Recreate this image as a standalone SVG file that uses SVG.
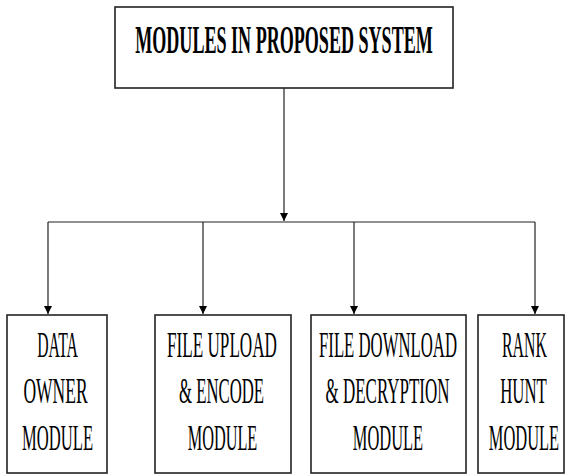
<svg xmlns="http://www.w3.org/2000/svg" width="565" height="474" viewBox="0 0 565 474">
<style>
.box{fill:#fff;stroke:#222;stroke-width:1.6}
.ln{fill:none;stroke:#222;stroke-width:1.2}
.t{font-family:"Liberation Serif","Times New Roman",serif;font-size:35px;fill:#000;text-anchor:middle}
.tt{font-family:"Liberation Serif","Times New Roman",serif;font-size:40px;font-weight:bold;fill:#000;text-anchor:middle}
</style>
<defs>
<marker id="ah" viewBox="0 0 8 10" refX="8" refY="5" markerWidth="8" markerHeight="10" markerUnits="userSpaceOnUse" orient="auto">
<path d="M0,1 L8,5 L0,9 Z" fill="#000"/>
</marker>
</defs>
<g id="title">
<rect class="box" x="115" y="7" width="338" height="81"/>
<text class="tt" transform="translate(284,53) scale(0.452,1)">MODULES IN PROPOSED SYSTEM</text>
</g>
<g id="connectors">
<line class="ln" x1="284" y1="88" x2="284" y2="221" marker-end="url(#ah)"/>
<line class="ln" x1="48" y1="222" x2="535" y2="222"/>
<line class="ln" x1="48" y1="222" x2="48" y2="314" marker-end="url(#ah)"/>
<line class="ln" x1="203" y1="222" x2="203" y2="314" marker-end="url(#ah)"/>
<line class="ln" x1="354" y1="222" x2="354" y2="314" marker-end="url(#ah)"/>
<line class="ln" x1="535" y1="222" x2="535" y2="314" marker-end="url(#ah)"/>
</g>
<g id="data-owner">
<rect class="box" x="7" y="315" width="100" height="158"/>
<text class="t" transform="translate(57.5,357) scale(0.45,1)">DATA</text>
<text class="t" transform="translate(55.5,403) scale(0.5,1)">OWNER</text>
<text class="t" transform="translate(57.5,450) scale(0.475,1)">MODULE</text>
</g>
<g id="file-upload">
<rect class="box" x="155" y="315" width="136" height="158"/>
<text class="t" transform="translate(222,357) scale(0.49,1)">FILE UPLOAD</text>
<text class="t" transform="translate(221.5,403) scale(0.478,1)">&amp; ENCODE</text>
<text class="t" transform="translate(222.5,450) scale(0.465,1)">MODULE</text>
</g>
<g id="file-download">
<rect class="box" x="311" y="315" width="155" height="158"/>
<text class="t" transform="translate(388,357) scale(0.478,1)">FILE DOWNLOAD</text>
<text class="t" transform="translate(387.5,403) scale(0.485,1)">&amp; DECRYPTION</text>
<text class="t" transform="translate(388,450) scale(0.47,1)">MODULE</text>
</g>
<g id="rank-hunt">
<rect class="box" x="478" y="315" width="86" height="158"/>
<text class="t" transform="translate(524.5,357) scale(0.454,1)">RANK</text>
<text class="t" transform="translate(523.5,403) scale(0.48,1)">HUNT</text>
<text class="t" transform="translate(524,450) scale(0.47,1)">MODULE</text>
</g>
</svg>
